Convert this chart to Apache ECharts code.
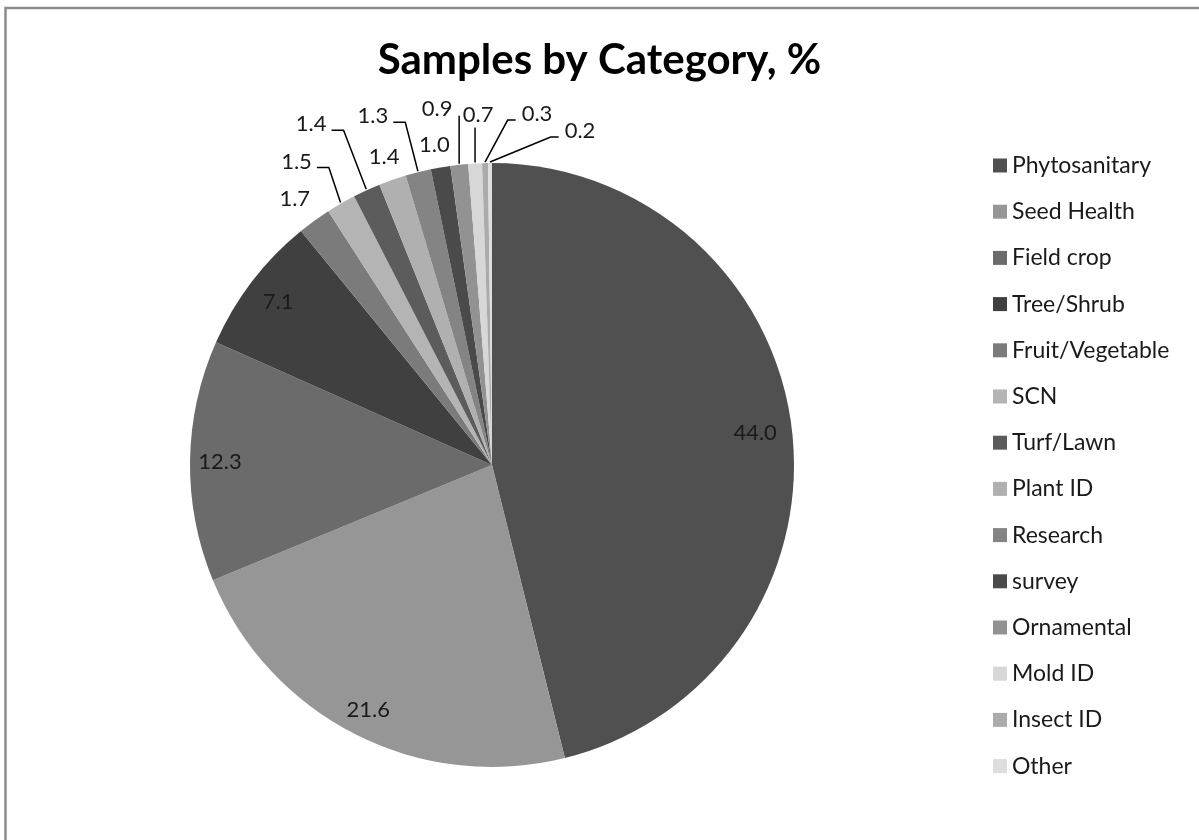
<!DOCTYPE html>
<html>
<head>
<meta charset="utf-8">
<title>Samples by Category, %</title>
<script src="https://cdn.jsdelivr.net/npm/echarts@6/dist/echarts.min.js"></script>
<style>
  html, body { margin: 0; padding: 0; background: #ffffff; }
  #chart { width: 1199px; height: 840px; }
</style>
</head>
<body>
<div id="chart"></div>
<script>
// Category names (legend order = slice order, clockwise from 12 o'clock)
const categories = [
  'Phytosanitary', 'Seed Health', 'Field crop', 'Tree/Shrub', 'Fruit/Vegetable',
  'SCN', 'Turf/Lawn', 'Plant ID', 'Research', 'survey',
  'Ornamental', 'Mold ID', 'Insect ID', 'Other'
];

// Share of samples, %
const shares = [44.0, 21.6, 12.3, 7.1, 1.7, 1.5, 1.4, 1.4, 1.3, 1.0, 0.9, 0.7, 0.3, 0.2];

// Grey fill of each slice
const sliceColors = [
  '#505050', '#969696', '#6b6b6b', '#404040', '#7b7b7b',
  '#b4b4b4', '#5c5c5c', '#b0b0b0', '#848484', '#4a4a4a',
  '#929292', '#d7d7d7', '#ababab', '#dedede'
];

// Pie geometry
const CX = 492, CY = 465, R = 302;
const FONT = 'Lato, "Open Sans", sans-serif';

// Label placement: large slices get their value inside near the rim;
// the thin slices get it above the rim, some with a leader line.
const placement = [
  { inside: 14 }, { inside: 8 }, { inside: 8 }, { inside: 14 },
  { dx: -19, dy: -21 },
  { dx: -44, dy: -41, leader: 'left' },
  { dx: -55, dy: -65, leader: 'left' },
  { dx: -8,  dy: -22 },
  { dx: -45, dy: -55, leader: 'left' },
  { dx: -6,  dy: -22 },
  { dx: -22, dy: -55, leader: 'vert', top: 7 },
  { dx: 3,   dy: -48, leader: 'vert', top: 13 },
  { dx: 52,  dy: -48, leader: 'right' },
  { dx: 90,  dy: -31, leader: 'right' }
];

const total = shares.reduce((a, b) => a + b, 0);
function midAngle(i) {
  let before = 0;
  for (let k = 0; k < i; k++) before += shares[k];
  return (before + shares[i] / 2) / total * Math.PI * 2;
}
function rimPoint(i, r) {
  const a = midAngle(i);
  return [CX + r * Math.sin(a), CY - r * Math.cos(a)];
}

const pieData = categories.map((name, i) => ({
  name: name,
  value: shares[i],
  itemStyle: { color: sliceColors[i] },
  labelLine: { show: !!placement[i].leader }
}));

const chart = echarts.init(document.getElementById('chart'), null, { renderer: 'canvas' });

chart.setOption({
  animation: false,
  backgroundColor: '#ffffff',
  title: {
    text: 'Samples by Category, %',
    left: 'center',
    top: 34,
    textStyle: { fontFamily: FONT, fontWeight: 'bold', fontSize: 42, color: '#000000' }
  },
  legend: {
    orient: 'vertical',
    left: 988,
    top: 149,
    padding: 5,
    icon: 'rect',
    itemWidth: 14,
    itemHeight: 14,
    itemGap: 23.2,
    selectedMode: false,
    data: categories,
    textStyle: { fontFamily: FONT, fontSize: 23, color: '#1a1a1a', lineHeight: 23 }
  },
  graphic: [{
    type: 'rect',
    silent: true,
    shape: { x: 5.5, y: 8, width: 1300, height: 900 },
    style: { fill: 'none', stroke: '#8c8c8c', lineWidth: 2.5 }
  }],
  series: [{
    type: 'pie',
    center: [CX, CY],
    radius: R,
    startAngle: 90,
    clockwise: true,
    avoidLabelOverlap: false,
    itemStyle: { borderWidth: 0 },
    emphasis: { disabled: true },
    label: {
      show: true,
      position: 'outside',
      fontFamily: FONT,
      fontSize: 22,
      color: '#1a1a1a',
      formatter: p => p.value.toFixed(1)
    },
    labelLine: {
      show: true,
      length: 10,
      length2: 10,
      lineStyle: { color: '#000000', width: 1.5 }
    },
    labelLayout: function (params) {
      const i = params.dataIndex;
      const pl = placement[i];
      const w = params.labelRect.width;
      const h = params.labelRect.height;
      const a = midAngle(i);
      const ux = Math.sin(a), uy = -Math.cos(a);
      if (pl.inside != null) {
        const ext = Math.abs(ux) * w / 2 + Math.abs(uy) * h / 2;
        const d = ext + pl.inside;
        const e = rimPoint(i, R);
        return { x: e[0] - ux * d, y: e[1] - uy * d, align: 'center', verticalAlign: 'middle' };
      }
      const e = rimPoint(i, R + 1);
      const lx = e[0] + pl.dx, ly = e[1] + pl.dy;
      const out = { x: lx, y: ly, align: 'center', verticalAlign: 'middle' };
      if (pl.leader === 'left') {
        const right = lx + w / 2;
        out.labelLinePoints = [e, [right + 17, ly + 6], [right + 5, ly + 6]];
      } else if (pl.leader === 'right') {
        const left = lx - w / 2;
        out.labelLinePoints = [e, [left - 14, ly + 6], [left - 6, ly + 6]];
      } else if (pl.leader === 'vert') {
        out.labelLinePoints = [e, [e[0], ly + pl.top], [e[0], ly + pl.top]];
      }
      return out;
    },
    data: pieData
  }]
});
</script>
</body>
</html>
